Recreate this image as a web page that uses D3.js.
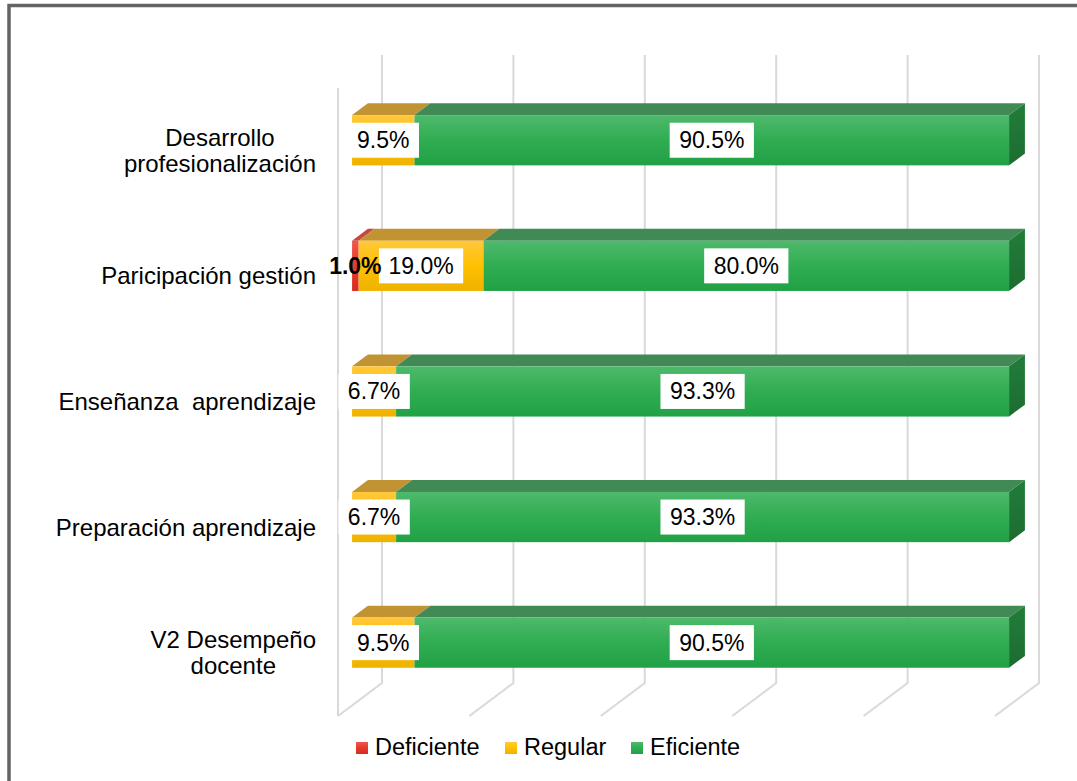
<!DOCTYPE html>
<html>
    <head>
        <title>V2 Desempeño docente</title>
        <meta charset="utf-8">
        <script src="https://d3js.org/d3.v7.min.js"></script>
        <style>
            body {
                margin: 0;
                background-color: white;
                font-family: "Liberation Sans", Arial, sans-serif;
            }
            .catLabel {
                font-size: 24px;
                fill: black;
            }
            .dataLabel {
                font-size: 23px;
                fill: black;
                text-anchor: middle;
            }
            .legendText {
                font-size: 23.5px;
                fill: black;
            }
            .grid {
                stroke: #d9d9d9;
                stroke-width: 2;
                fill: none;
            }
        </style>
    </head>
    <body>
        <script>
            // DATA //
            var categories = ["Desarrollo profesionalización", "Paricipación gestión", "Enseñanza  aprendizaje", "Preparación aprendizaje", "V2 Desempeño docente"];
            var catLines = [["Desarrollo", "profesionalización"], ["Paricipación gestión"], ["Enseñanza  aprendizaje"], ["Preparación aprendizaje"], ["V2 Desempeño", "docente"]];
            var seriesNames = ["Deficiente", "Regular", "Eficiente"];
            var deficiente = [0, 1.0, 0, 0, 0];
            var regular = [9.5, 19.0, 6.7, 6.7, 9.5];
            var eficiente = [90.5, 80.0, 93.3, 93.3, 90.5];
            var ticks = [0, 20, 40, 60, 80, 100];

            // 3d look
            var depthX = 44, depthY = -33;
            var barFront = 0.32, barBack = 0.68;

            var colors = {
                Deficiente: {front: ["#f0564c", "#e53a2f", "#d92b22"], top: "#c8483f", side: "#a32a22"},
                Regular: {front: ["#ffc83c", "#ffc000", "#eeb200"], top: "#c29333", side: "#a8800a"},
                Eficiente: {front: ["#4fb96c", "#30ad52", "#21a046"], top: "#428a55", side: "#1d6c31"}
            };

            var canvas = d3.select('body').append('svg')
                .attr('width', 1077)
                .attr('height', 781);

            var defs = canvas.append('defs');
            seriesNames.forEach(function(name){
                var g = defs.append('linearGradient')
                    .attr('id', 'grad' + name)
                    .attr('x1', 0).attr('y1', 0).attr('x2', 0).attr('y2', 1);
                g.append('stop').attr('offset', '0%').attr('stop-color', colors[name].front[0]);
                g.append('stop').attr('offset', '50%').attr('stop-color', colors[name].front[1]);
                g.append('stop').attr('offset', '100%').attr('stop-color', colors[name].front[2]);
                var s = defs.append('linearGradient')
                    .attr('id', 'side' + name)
                    .attr('x1', 0).attr('y1', 0).attr('x2', 0).attr('y2', 1);
                s.append('stop').attr('offset', '0%').attr('stop-color', d3.color(colors[name].side).brighter(0.4));
                s.append('stop').attr('offset', '100%').attr('stop-color', colors[name].side);
            });

            // FRAME //
            canvas.append('path')
                .attr('d', 'M9,781 V5.5 H1077')
                .attr('fill', 'none')
                .attr('stroke', '#646464')
                .attr('stroke-width', 3.5);

            // SCALES //
            var x = d3.scaleLinear().domain([0, 100]).range([338, 995]);
            var y = d3.scaleBand().domain(categories).range([88, 716])
                .paddingInner(0.6).paddingOuter(0.3);

            function proj(v, yy, d) {
                return [x(v) + d * depthX, yy + d * depthY];
            }

            // GRID //
            var grid = canvas.append('g');
            var yTop = y.range()[0] + depthY, yBottom = y.range()[1];
            grid.selectAll('path.grid')
                .data(ticks)
                .enter()
                .append('path')
                .attr('class', 'grid')
                .attr('d', function(t){
                    return 'M' + (x(t) + depthX) + ',' + yTop +
                        ' V' + (yBottom + depthY) +
                        ' L' + x(t) + ',' + yBottom;
                });
            // axis line on the left side
            grid.append('path')
                .attr('class', 'grid')
                .attr('d', 'M' + x(0) + ',' + y.range()[0] + ' V' + yBottom);

            // BARS //
            var rows = categories.map(function(c, i){
                var vals = [deficiente[i], regular[i], eficiente[i]];
                var start = 0;
                var segs = vals.map(function(v, j){
                    var s = {name: seriesNames[j], v0: start, v1: start + v, value: v, cat: c};
                    start += v;
                    return s;
                }).filter(function(s){ return s.value > 0; });
                return {cat: c, segs: segs};
            });

            var bars = canvas.append('g');
            rows.forEach(function(row){
                var y0 = y(row.cat), y1 = y(row.cat) + y.bandwidth();
                var g = bars.append('g');
                row.segs.forEach(function(s, k){
                    var a = proj(s.v0, y0, barFront), b = proj(s.v1, y0, barFront),
                        c = proj(s.v1, y0, barBack), d = proj(s.v0, y0, barBack);
                    g.append('path')
                        .attr('d', 'M' + [a, b, c, d].join(' L') + ' Z')
                        .attr('fill', colors[s.name].top);
                    var f0 = proj(s.v0, y0, barFront), f1 = proj(s.v1, y1, barFront);
                    g.append('rect')
                        .attr('x', f0[0])
                        .attr('y', f0[1])
                        .attr('width', f1[0] - f0[0])
                        .attr('height', f1[1] - f0[1])
                        .attr('fill', 'url(#grad' + s.name + ')');
                    if (k == row.segs.length - 1) {
                        var p1 = proj(s.v1, y0, barFront), p2 = proj(s.v1, y0, barBack),
                            p3 = proj(s.v1, y1, barBack), p4 = proj(s.v1, y1, barFront);
                        g.append('path')
                            .attr('d', 'M' + [p1, p2, p3, p4].join(' L') + ' Z')
                            .attr('fill', 'url(#side' + s.name + ')');
                    }
                });
            });

            // DATA LABELS //
            var labels = canvas.append('g');
            rows.forEach(function(row){
                var cy = y(row.cat) + y.bandwidth() / 2 + barFront * depthY;
                row.segs.forEach(function(s){
                    var cx = (x(s.v0) + x(s.v1)) / 2 + barFront * depthX;
                    var txt = s.value.toFixed(1) + '%';
                    var t = labels.append('text')
                        .attr('class', 'dataLabel')
                        .attr('x', cx)
                        .attr('y', cy + 8)
                        .text(txt);
                    if (s.name == 'Deficiente') {
                        t.attr('font-weight', 'bold');
                    } else {
                        var w = t.node().getComputedTextLength();
                        labels.insert('rect', function(){ return t.node(); })
                            .attr('x', cx - w / 2 - 9.5)
                            .attr('y', cy - 17.5)
                            .attr('width', w + 19)
                            .attr('height', 35)
                            .attr('fill', 'white');
                    }
                });
            });
            // bold labels drawn last so they sit on top
            labels.selectAll('text[font-weight="bold"]').raise();

            // CATEGORY LABELS //
            var catG = canvas.append('g');
            var rightEdge = 316, lineH = 26;
            categories.forEach(function(c, i){
                var lines = catLines[i];
                var cy = y(c) + y.bandwidth() / 2;
                var t = catG.append('text')
                    .attr('class', 'catLabel')
                    .style('white-space', 'pre');
                var spans = lines.map(function(l, j){
                    return t.append('tspan')
                        .attr('y', cy + 8 + (j - (lines.length - 1) / 2) * lineH)
                        .text(l);
                });
                var widths = spans.map(function(s){ return s.node().getComputedTextLength(); });
                var maxW = d3.max(widths);
                spans.forEach(function(s, j){
                    s.attr('x', rightEdge - maxW / 2 - widths[j] / 2);
                });
            });

            // LEGEND //
            var legendX = [356, 505, 631];
            var legend = canvas.append('g');
            seriesNames.forEach(function(name, i){
                legend.append('rect')
                    .attr('x', legendX[i])
                    .attr('y', 742)
                    .attr('width', 12)
                    .attr('height', 12)
                    .attr('fill', 'url(#grad' + name + ')');
                legend.append('text')
                    .attr('class', 'legendText')
                    .attr('x', legendX[i] + 19)
                    .attr('y', 755)
                    .text(name);
            });
        </script>
    </body>
</html>
